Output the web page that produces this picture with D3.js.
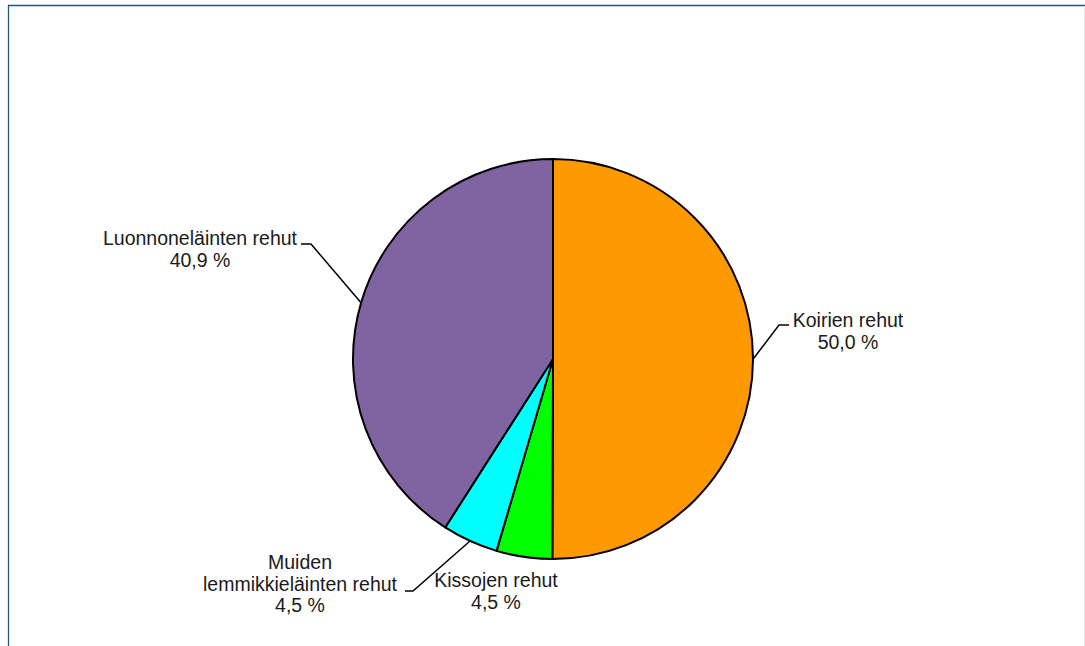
<!DOCTYPE html>
<html>
<head>
<meta charset="utf-8">
<script src="https://d3js.org/d3.v7.min.js"></script>
<style>
  body { margin: 0; background: #fff; }
  text { font-family: "Liberation Sans", Arial, sans-serif; font-size: 19.5px; fill: #1a1a1a; }
</style>
</head>
<body>
<svg width="1085" height="646"></svg>
<script>
// data, clockwise from 12 o'clock
const categories = ["Koirien rehut", "Kissojen rehut", "Muiden lemmikkieläinten rehut", "Luonnoneläinten rehut"];
const values = [50.0, 4.5, 4.5, 40.9];
const valueLabels = ["50,0 %", "4,5 %", "4,5 %", "40,9 %"];
const colors = ["#FF9900", "#00FF00", "#00FFFF", "#8064A2"];

// label layout (text lines, centre x, first baseline, leader elbow)
const labelLayout = [
  { lines: ["Koirien rehut"], x: 848, y: 327, elbow: [779, 325], end: [789, 325] },
  { lines: ["Kissojen rehut"], x: 496, y: 587, elbow: null },
  { lines: ["Muiden", "lemmikkieläinten rehut"], x: 300, y: 569, elbow: [413, 591], end: [405, 591] },
  { lines: ["Luonnoneläinten rehut"], x: 200, y: 245, elbow: [311, 244], end: [301, 244] }
];

const svg = d3.select("svg");
const cx = 553, cy = 359, r = 200;

// frame
svg.append("line").attr("x1", 8).attr("y1", 5.5).attr("x2", 1085).attr("y2", 5.5)
  .attr("stroke", "#1F5A7D").attr("stroke-width", 1.3);
svg.append("line").attr("x1", 8.5).attr("y1", 5).attr("x2", 8.5).attr("y2", 646)
  .attr("stroke", "#1F5A7D").attr("stroke-width", 1.3);
svg.append("line").attr("x1", 1084.5).attr("y1", 6).attr("x2", 1084.5).attr("y2", 646)
  .attr("stroke", "#e8e8e8").attr("stroke-width", 1);

const pie = d3.pie().sort(null).value(d => d)(values);
const arc = d3.arc().innerRadius(0).outerRadius(r);
const edge = d3.arc().innerRadius(r).outerRadius(r);

const g = svg.append("g").attr("transform", `translate(${cx},${cy})`);

g.selectAll("path.slice")
  .data(pie)
  .enter()
  .append("path")
  .attr("class", "slice")
  .attr("d", arc)
  .attr("fill", (d, i) => colors[i])
  .attr("stroke", "#000")
  .attr("stroke-width", 2)
  .attr("stroke-linejoin", "round");

// leader lines
pie.forEach((d, i) => {
  const L = labelLayout[i];
  if (!L.elbow) return;
  const p = edge.centroid(d);
  const pts = [[p[0] + cx, p[1] + cy], L.elbow, L.end];
  svg.append("polyline")
    .attr("points", pts.map(q => q.join(",")).join(" "))
    .attr("fill", "none")
    .attr("stroke", "#000")
    .attr("stroke-width", 1.5);
});

// labels
labelLayout.forEach((L, i) => {
  const t = svg.append("text").attr("text-anchor", "middle");
  const lines = L.lines.concat([valueLabels[i]]);
  lines.forEach((s, k) => {
    t.append("tspan").attr("x", L.x).attr("y", L.y + k * 21.5).text(s);
  });
});
</script>
</body>
</html>
